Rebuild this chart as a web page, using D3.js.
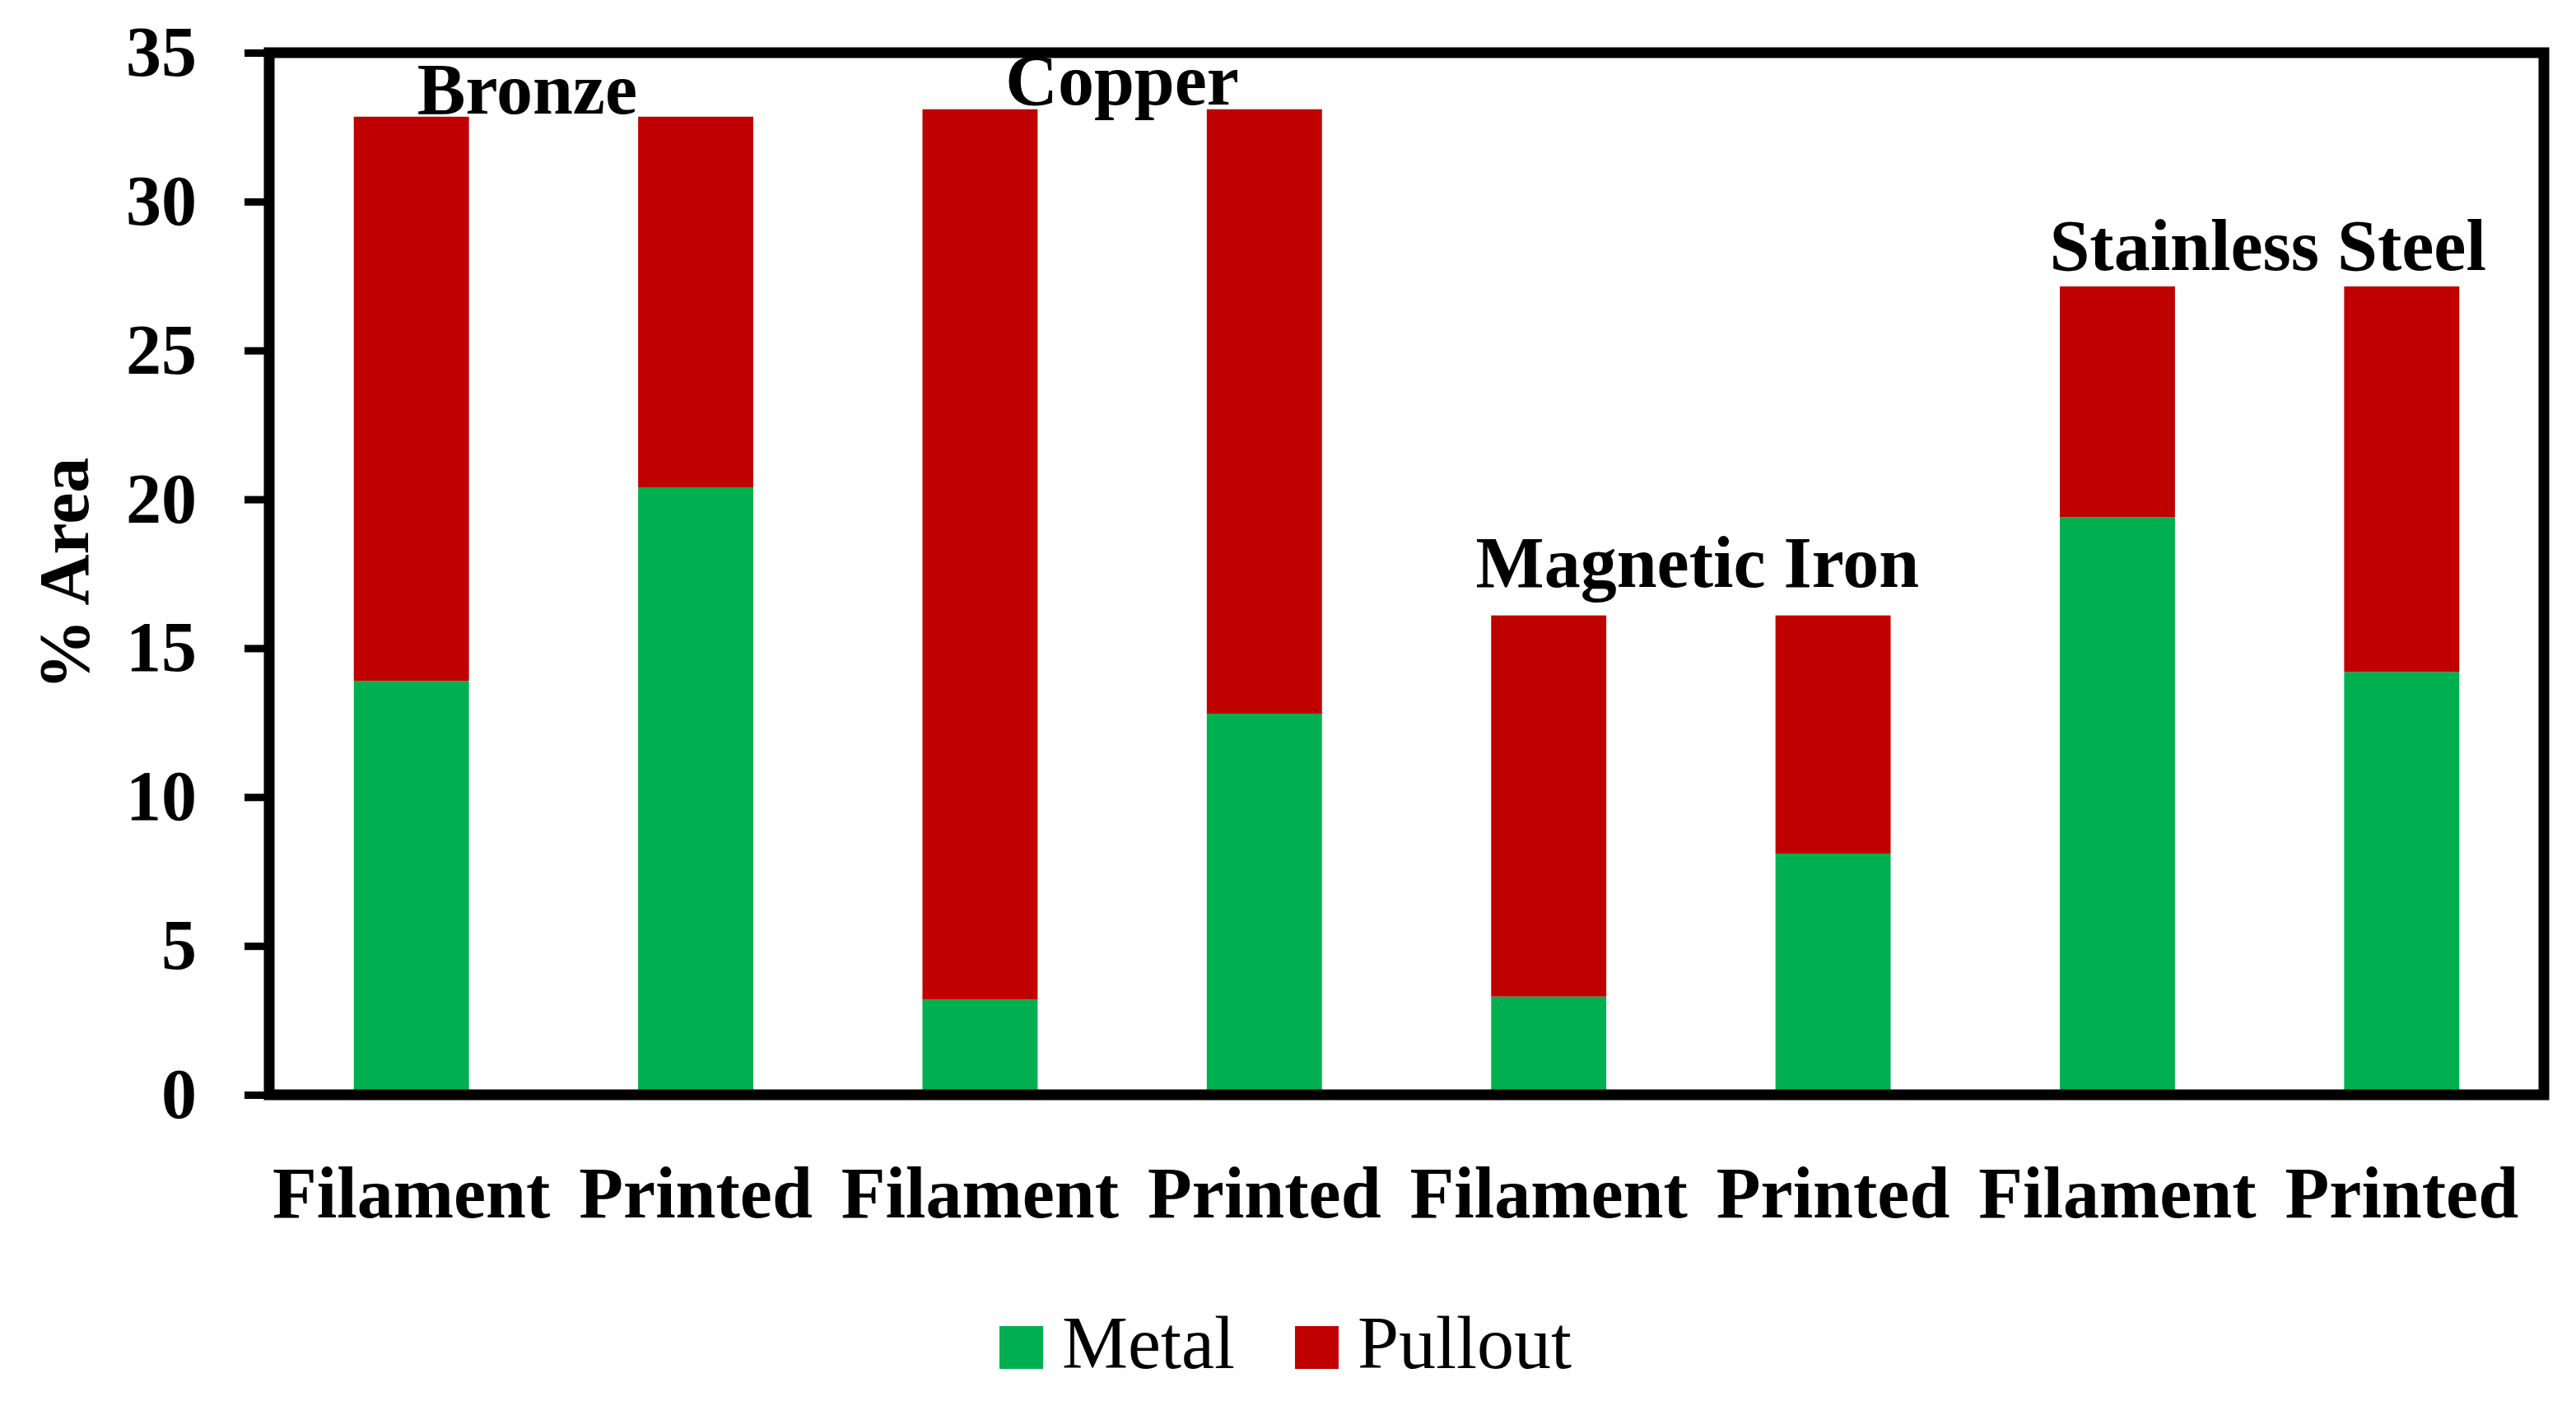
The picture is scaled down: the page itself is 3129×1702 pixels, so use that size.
<!DOCTYPE html>
<html>
<head>
<meta charset="utf-8">
<script src="https://cdn.jsdelivr.net/npm/d3@7"></script>
<style>
  html, body { margin: 0; padding: 0; background: #fff; }
  svg { display: block; }
  text { font-family: "Liberation Serif", "Times New Roman", serif; fill: #000; }
</style>
</head>
<body>
<svg id="chart" width="3129" height="1702"></svg>
<script>
// ---- data ----
const categories = ["Filament", "Printed", "Filament", "Printed", "Filament", "Printed", "Filament", "Printed"];
const materials = ["Bronze", "Copper", "Magnetic Iron", "Stainless Steel"];
const metal   = [13.9, 20.4, 3.2, 12.8, 3.3, 8.1, 19.4, 14.2];
const pullout = [18.95, 12.45, 29.9, 20.3, 12.8, 8.0, 7.75, 12.95];
const seriesNames = ["Metal", "Pullout"];
const yTicks = [0, 5, 10, 15, 20, 25, 30, 35];
const labelLevel = [32.95, 33.25, 17.05, 27.7]; // data-space height of material labels

// ---- layout ----
const W = 3129, H = 1702;
const plot = { left: 327, right: 3090, top: 64, bottom: 1330 };
const colors = { Metal: "#00B050", Pullout: "#C00000" };
const fontSize = 88;

const svg = d3.select("#chart");

const x = d3.scaleBand()
  .domain(d3.range(categories.length))
  .range([plot.left, plot.right])
  .paddingInner(0.595)
  .paddingOuter(0.2975);

const y = d3.scaleLinear().domain([0, 35]).range([plot.bottom, plot.top]);

const rows = categories.map((c, i) => ({ i, Metal: metal[i], Pullout: pullout[i] }));
const stacked = d3.stack().keys(seriesNames)(rows);

// bars
svg.append("g").selectAll("g")
  .data(stacked).join("g")
  .attr("fill", d => colors[d.key])
  .selectAll("rect")
  .data(d => d).join("rect")
  .attr("x", d => x(d.data.i))
  .attr("y", d => y(d[1]))
  .attr("width", x.bandwidth())
  .attr("height", d => y(d[0]) - y(d[1]));

// frame
svg.append("rect")
  .attr("x", plot.left).attr("y", plot.top)
  .attr("width", plot.right - plot.left).attr("height", plot.bottom - plot.top)
  .attr("fill", "none").attr("stroke", "#000").attr("stroke-width", 13);

// y axis ticks and labels
const yAxis = d3.axisLeft(y).tickValues(yTicks).tickSize(30).tickPadding(58).tickFormat(d3.format("d"));
const gy = svg.append("g").attr("transform", `translate(${plot.left},0)`).call(yAxis);
gy.select(".domain").remove();
gy.selectAll(".tick line").attr("stroke", "#000").attr("stroke-width", 9);
gy.selectAll(".tick text")
  .attr("font-size", 86).attr("font-weight", "bold")
  .attr("font-family", "Liberation Serif, serif").attr("fill", "#000")
  .attr("dy", "0.32em");

// x labels
const xAxis = d3.axisBottom(x).tickSize(0).tickPadding(0).tickFormat(i => categories[i]);
const gx = svg.append("g").attr("transform", `translate(0,${plot.bottom})`).call(xAxis);
gx.select(".domain").remove();
gx.selectAll(".tick text")
  .attr("font-size", fontSize).attr("font-weight", "bold")
  .attr("font-family", "Liberation Serif, serif").attr("fill", "#000")
  .attr("y", 149).attr("dy", 0);

// y title
svg.append("text")
  .attr("transform", `translate(107,${(plot.top + plot.bottom) / 2}) rotate(-90)`)
  .attr("text-anchor", "middle")
  .attr("font-size", 86).attr("font-weight", "bold")
  .text("% Area");

// material labels
const labelDx = [-32, 0, 8, 10];
materials.forEach((m, k) => {
  const cx = (x(2 * k) + x(2 * k + 1) + x.bandwidth()) / 2 + labelDx[k];
  svg.append("text")
    .attr("x", cx).attr("y", y(labelLevel[k]))
    .attr("text-anchor", "middle")
    .attr("font-size", fontSize).attr("font-weight", "bold")
    .text(m);
});

// legend
const legendItems = [
  { name: "Metal", sx: 1214, tx: 1290 },
  { name: "Pullout", sx: 1573, tx: 1649 }
];
const lg = svg.append("g");
legendItems.forEach(it => {
  lg.append("rect").attr("x", it.sx).attr("y", 1611).attr("width", 53).attr("height", 52)
    .attr("fill", colors[it.name]);
  lg.append("text").attr("x", it.tx).attr("y", 1662)
    .attr("font-size", 90).text(it.name);
});
</script>
</body>
</html>
